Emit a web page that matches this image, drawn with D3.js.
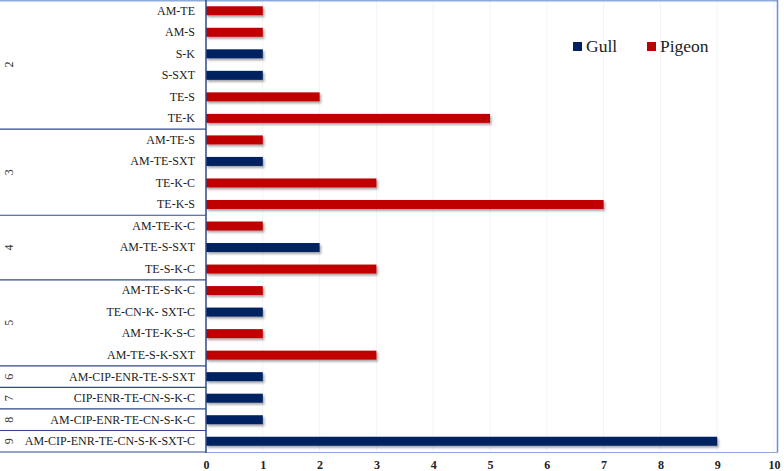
<!DOCTYPE html>
<html><head><meta charset="utf-8">
<script src="https://cdn.jsdelivr.net/npm/d3@7"></script>
<style>body{margin:0;background:#fff}svg{display:block}
svg text{font-family:"Liberation Serif","Times New Roman","DejaVu Serif",serif !important;}
</style>
</head><body>
<svg id="c" width="784" height="471"></svg>
<script>
const categories = ["AM-TE","AM-S","S-K","S-SXT","TE-S","TE-K",
  "AM-TE-S","AM-TE-SXT","TE-K-C","TE-K-S",
  "AM-TE-K-C","AM-TE-S-SXT","TE-S-K-C",
  "AM-TE-S-K-C","TE-CN-K- SXT-C","AM-TE-K-S-C","AM-TE-S-K-SXT",
  "AM-CIP-ENR-TE-S-SXT","CIP-ENR-TE-CN-S-K-C","AM-CIP-ENR-TE-CN-S-K-C","AM-CIP-ENR-TE-CN-S-K-SXT-C"];
const groups = ["2","3","4","5","6","7","8","9"];
const groupSizes = [6,4,3,4,1,1,1,1];
const gull   = [0,0,1,1,0,0, 0,1,0,0, 0,2,0, 0,1,0,0, 1,1,1,9];
const pigeon = [1,1,0,0,2,5, 1,0,3,7, 1,0,3, 1,0,1,3, 0,0,0,0];
const seriesNames = ["Gull","Pigeon"];
const xTicks = [0,1,2,3,4,5,6,7,8,9,10];

(function(){
const colors = {Gull:"#002060", Pigeon:"#c00000"};
const svg = d3.select("#c");
const pL = 206, pR = 774, pT = 0, pB = 452;
const x = d3.scaleLinear().domain([0,10]).range([pL,pR]);
const y = d3.scaleBand().domain(d3.range(categories.length)).range([pT,pB]);

const defs = svg.append("defs");
const f = defs.append("filter").attr("id","sh").attr("x","-5%").attr("y","-50%").attr("width","120%").attr("height","250%");
f.append("feDropShadow").attr("dx",1.5).attr("dy",2).attr("stdDeviation",1).attr("flood-color","#000").attr("flood-opacity",0.35);

svg.append("g").selectAll("line").data(xTicks.slice(1)).join("line")
  .attr("x1",d=>x(d)).attr("x2",d=>x(d)).attr("y1",pT).attr("y2",pB)
  .attr("stroke","#f3f3f3").attr("stroke-width",1);

svg.append("line").attr("x1",0).attr("x2",778).attr("y1",0.75).attr("y2",0.75).attr("stroke","#8eaadb").attr("stroke-width",1.5);
svg.append("line").attr("x1",777.5).attr("x2",777.5).attr("y1",0).attr("y2",pB+0.5).attr("stroke","#6d8fd8").attr("stroke-width",1.5);
svg.append("line").attr("x1",pL).attr("x2",778).attr("y1",pB+0.5).attr("y2",pB+0.5).attr("stroke","#8eaadb").attr("stroke-width",1);

const rows = categories.map((c,i)=>({i, s: gull[i]>0?"Gull":"Pigeon", v: gull[i]>0?gull[i]:pigeon[i]}));
const bh = 9;
svg.append("g").selectAll("rect").data(rows).join("rect")
  .attr("x",x(0)).attr("y",d=>y(d.i)+y.bandwidth()/2-bh/2)
  .attr("width",d=>x(d.v)-x(0)).attr("height",bh)
  .attr("fill",d=>colors[d.s]).attr("filter","url(#sh)");

svg.append("line").attr("x1",pL).attr("x2",pL).attr("y1",0).attr("y2",pB+1).attr("stroke","#2f4a8a").attr("stroke-width",1.5);

const yAxis = d3.axisLeft(y).tickSize(0).tickPadding(11).tickFormat(i=>categories[i]);
const ya = svg.append("g").attr("transform",`translate(${pL},0)`).call(yAxis);
ya.select(".domain").remove();
ya.attr("font-family",null).attr("font-size",null);
ya.selectAll("text").style("font-size","12px").attr("fill","#222");

let start = 0;
groups.forEach((g,k)=>{
  const end = start + groupSizes[k];
  const yb = y(end-1) + y.bandwidth();
  svg.append("line").attr("x1",0).attr("x2",pL).attr("y1",yb).attr("y2",yb).attr("stroke","#2f4a8a").attr("stroke-width",1.2);
  const yc = (y(start) + yb)/2;
  svg.append("text").attr("transform",`translate(9,${yc}) rotate(-90)`).attr("text-anchor","middle").attr("dy","0.35em")
    .style("font-size","12px").attr("fill","#333").text(g);
  start = end;
});

const xAxis = d3.axisBottom(x).tickValues(xTicks).tickSize(0).tickPadding(8).tickFormat(d3.format("d"));
const xa = svg.append("g").attr("transform",`translate(0,${pB})`).call(xAxis);
xa.select(".domain").remove();
xa.attr("font-family",null).attr("font-size",null);
xa.selectAll("text").style("font-size","12px").style("font-weight","bold").attr("fill","#222");

const lg = svg.append("g");
const lx = [573, 647];
seriesNames.forEach((s,k)=>{
  lg.append("rect").attr("x",lx[k]).attr("y",42).attr("width",9).attr("height",9).attr("fill",colors[s]);
  lg.append("text").attr("x",lx[k]+13).attr("y",52).style("font-size","17.5px").attr("fill","#222").text(s);
});
})();
</script>
</body></html>
